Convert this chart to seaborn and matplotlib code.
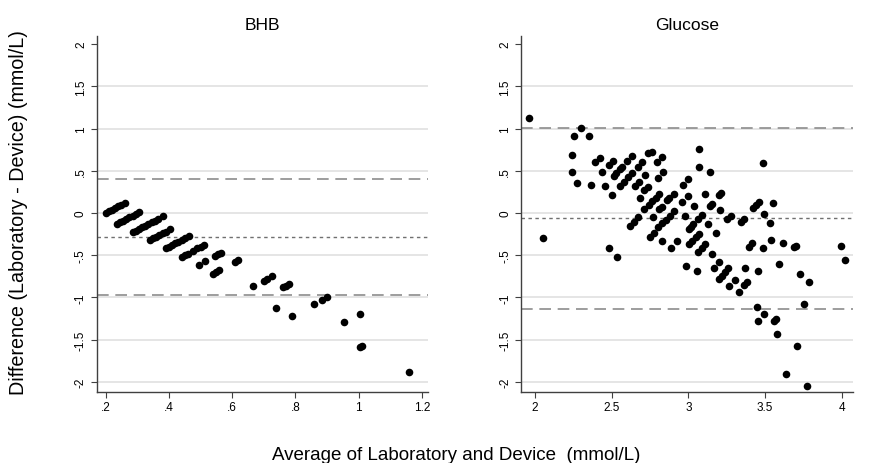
import matplotlib
matplotlib.use("Agg")
import matplotlib.pyplot as plt
import numpy as np
import pandas as pd
import seaborn as sns

sns.set_theme(style="white")
plt.rcParams['font.family'] = ['Liberation Sans', 'DejaVu Sans']
plt.rcParams['text.color'] = 'black'

# ---------------- data ----------------
# BHB: device reading (0.1 resolution) and laboratory reading for each sample
bhb_device = [0.2, 0.2, 0.2, 0.2, 0.2, 0.2, 0.2,
              0.3, 0.3, 0.3, 0.3, 0.3, 0.3, 0.3, 0.3,
              0.4, 0.4, 0.4, 0.4, 0.4, 0.4, 0.4, 0.4, 0.4, 0.4,
              0.5, 0.5, 0.5, 0.5, 0.5, 0.5, 0.5,
              0.6, 0.6, 0.6, 0.6, 0.6, 0.6, 0.6, 0.6,
              0.7, 0.7, 0.7, 0.7, 0.7, 0.7, 0.7,
              0.8, 0.8, 0.8, 0.8, 0.8,
              0.9, 0.9, 0.9, 0.9, 0.9,
              1.1, 1.1, 1.1, 1.1,
              1.2, 1.2, 1.2,
              1.3,
              1.4, 1.4, 1.4, 1.4,
              1.6, 1.6,
              1.8, 1.8,
              2.1]
bhb_lab = [0.20, 0.22, 0.24, 0.26, 0.28, 0.30, 0.32,
           0.17, 0.19, 0.21, 0.23, 0.25, 0.27, 0.29, 0.31,
           0.17, 0.19, 0.21, 0.23, 0.25, 0.27, 0.29, 0.31, 0.33, 0.36,
           0.18, 0.20, 0.22, 0.24, 0.26, 0.28, 0.31,
           0.18, 0.20, 0.22, 0.24, 0.26, 0.28, 0.30, 0.33,
           0.18, 0.20, 0.22, 0.25, 0.28, 0.30, 0.32,
           0.19, 0.23, 0.29, 0.31, 0.33,
           0.18, 0.20, 0.22, 0.32, 0.34,
           0.23, 0.30, 0.32, 0.35,
           0.32, 0.34, 0.36,
           0.18,
           0.18, 0.32, 0.37, 0.40,
           0.31, 0.41,
           0.21, 0.22,
           0.22]

# Glucose: average and difference
glu_avg = [1.961, 2.050, 2.300, 2.254, 2.352, 2.239, 2.239, 2.276, 2.363, 2.394,
           2.424, 2.435, 2.458, 2.482, 2.533,
           2.480, 2.507, 2.504, 2.513, 2.528, 2.556, 2.569,
           2.554, 2.580, 2.606, 2.630, 2.602, 2.630, 2.655, 2.680,
           2.669, 2.699, 2.683, 2.717, 2.713, 2.739, 2.714, 2.739, 2.761,
           2.619, 2.647, 2.673, 2.750, 2.776, 2.771, 2.797, 2.826, 2.800, 2.834,
           2.743, 2.766, 2.789, 2.810, 2.810, 2.826, 2.826, 2.885, 2.929,
           2.804, 2.829, 2.855, 2.880, 2.860, 2.875, 2.906, 2.909,
           2.963, 2.995, 2.960, 2.999, 2.978,
           3.071, 3.071, 3.141, 3.038, 3.106,
           3.006, 3.019, 3.032, 3.065, 3.087,
           3.006, 3.027, 3.050, 3.071, 3.065, 3.086, 3.108,
           3.130, 3.141, 3.152, 3.201, 3.213,
           3.206, 3.180, 3.152, 2.984, 3.054, 3.201, 3.167,
           3.201, 3.221, 3.241, 3.260, 3.267, 3.301, 3.332, 3.364, 3.385, 3.369,
           3.254, 3.276, 3.341, 3.362, 3.395, 3.413, 3.423, 3.441, 3.460,
           3.488, 3.493, 3.553, 3.532, 3.488, 3.538, 3.615, 3.688, 3.699,
           3.593, 3.454, 3.445, 3.457, 3.495, 3.555, 3.569,
           3.576, 3.728, 3.788, 3.754, 3.706, 3.638, 3.771, 3.995, 4.021]
glu_diff = [1.128, -0.293, 1.006, 0.911, 0.911, 0.689, 0.490, 0.356, 0.333, 0.600,
            0.657, 0.483, 0.324, -0.419, -0.526,
            0.574, 0.618, 0.217, 0.433, 0.469, 0.523, 0.543,
            0.317, 0.368, 0.422, 0.475, 0.618, 0.673, 0.317, 0.365,
            0.543, 0.609, 0.175, 0.451, 0.270, 0.312, 0.042, 0.713, 0.728,
            -0.158, -0.103, -0.051, -0.289, -0.241, -0.051, 0.602, 0.659, 0.412, 0.483,
            0.095, 0.139, 0.183, 0.226, 0.042, 0.077, -0.333, -0.419, -0.329,
            -0.170, -0.124, -0.077, -0.032, 0.152, 0.172, 0.026, 0.223,
            0.333, 0.398, 0.132, 0.205, -0.032,
            0.760, 0.550, 0.487, 0.087, 0.226,
            -0.190, -0.160, -0.131, -0.071, -0.024,
            -0.368, -0.329, -0.289, -0.249, -0.467, -0.417, -0.368,
            -0.131, 0.087, 0.107, 0.214, 0.238,
            0.030, -0.241, -0.487, -0.626, -0.685, -0.582, -0.657,
            -0.784, -0.741, -0.700, -0.657, -0.861, -0.796, -0.932, -0.855, -0.819, -0.647,
            -0.071, -0.039, -0.110, -0.071, -0.407, -0.356, 0.056, 0.095, 0.134,
            0.590, -0.006, 0.119, -0.122, -0.416, -0.317, -0.360, -0.407, -0.396,
            -0.606, -0.689, -1.108, -1.279, -1.200, -1.279, -1.251,
            -1.437, -0.728, -0.814, -1.083, -1.574, -1.912, -2.043, -0.396, -0.552]

# limits of agreement and mean difference (upper, mean, lower)
bhb_lines = [0.404, -0.285, -0.970]
glu_lines = [1.006, -0.063, -1.135]

y_ticks = [-2, -1.5, -1, -0.5, 0, 0.5, 1, 1.5, 2]
y_tick_labels = ["-2", "-1.5", "-1", "-.5", "0", ".5", "1", "1.5", "2"]
bhb_x_ticks = [0.2, 0.4, 0.6, 0.8, 1.0, 1.2]
bhb_x_labels = [".2", ".4", ".6", ".8", "1", "1.2"]
glu_x_ticks = [2, 2.5, 3, 3.5, 4]
glu_x_labels = ["2", "2.5", "3", "3.5", "4"]

panel_titles = ["BHB", "Glucose"]
y_label = "Difference (Laboratory - Device) (mmol/L)"
x_label = "Average of Laboratory and Device  (mmol/L)"

# ---------------- frames ----------------
bhb = pd.DataFrame({"lab": bhb_lab, "device": bhb_device})
bhb["avg"] = (bhb["lab"] + bhb["device"]) / 2
bhb["diff"] = bhb["lab"] - bhb["device"]
glu = pd.DataFrame({"avg": glu_avg, "diff": glu_diff})

# ---------------- figure ----------------
fig = plt.figure(figsize=(8.74, 4.64), dpi=100)
ax1 = fig.add_axes([0.1106, 0.154, 0.379, 0.767])
ax2 = fig.add_axes([0.596, 0.154, 0.380, 0.767])

spine_col = "#404040"
panels = [
    (ax1, bhb, bhb_lines, bhb_x_ticks, bhb_x_labels, (0.1716, 1.219), panel_titles[0]),
    (ax2, glu, glu_lines, glu_x_ticks, glu_x_labels, (1.909, 4.073), panel_titles[1]),
]
for ax, df, lines, xt, xl, xlim, title in panels:
    ax.set_facecolor("white")
    for yv in y_ticks[:-1]:
        ax.axhline(yv, color="#e3e3e3", lw=1.3, zorder=0)
    ax.axhline(lines[0], color="#8c8c8c", lw=1.2, ls=(0, (7, 4)), zorder=1)
    ax.axhline(lines[2], color="#8c8c8c", lw=1.2, ls=(0, (7, 4)), zorder=1)
    ax.axhline(lines[1], color="#707070", lw=1.0, ls=(0, (2.5, 2.5)), zorder=1)
    sns.scatterplot(data=df, x="avg", y="diff", ax=ax, color="black",
                    s=30, linewidth=0, zorder=3, legend=False)
    ax.set_xlim(*xlim)
    ax.set_ylim(-2.114, 2.10)
    ax.set_xticks(xt)
    ax.set_xticklabels(xl, fontsize=8.5)
    ax.set_yticks(y_ticks)
    ax.set_yticklabels(y_tick_labels, fontsize=8.5, rotation=90, va="center")
    ax.set_xlabel("")
    ax.set_ylabel("")
    ax.grid(False)
    for s in ["top", "right"]:
        ax.spines[s].set_visible(False)
    for s in ["left", "bottom"]:
        ax.spines[s].set_color(spine_col)
        ax.spines[s].set_linewidth(1.0)
    ax.tick_params(axis="both", direction="out", length=4, width=0.8,
                   color=spine_col, labelcolor="black", pad=3,
                   left=True, bottom=True)
    ax.set_title(title, fontsize=12.5, pad=5, color="black")

fig.text(0.0206, 0.541, y_label, rotation=90, ha="center", va="center",
         fontsize=14.2, color="black")
fig.text(0.5223, 0.019, x_label, ha="center", va="center",
         fontsize=13.5, color="black")

fig.savefig("out.png", dpi=100, facecolor="white")
